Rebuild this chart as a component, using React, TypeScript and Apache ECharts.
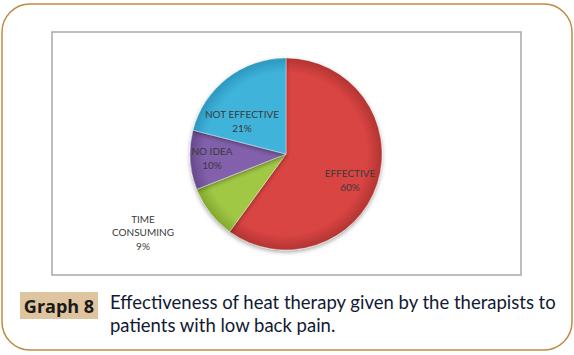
import React, { useEffect, useRef } from 'react';
import * as echarts from 'echarts';

const categories = ['EFFECTIVE', 'TIME CONSUMING', 'NO IDEA', 'NOT EFFECTIVE'];
const labelNames = ['EFFECTIVE', 'TIME\nCONSUMING', 'NO IDEA', 'NOT EFFECTIVE'];
const values = [60, 9, 10, 21];
const colors = ['#d84442', '#a0c845', '#8260ab', '#3fb3da'];
const edgeColors = ['#b23432', '#82a82f', '#67498c', '#2c97bf'];
const captionTag = 'Graph 8';
const captionLines = [
  'Effectiveness of heat therapy given by the therapists to',
  'patients with low back pain.',
];
// label anchor positions (px) for each slice label
const labelPos = [
  [350, 180],
  [143, 232],
  [212, 158],
  [242, 121],
];

const W = 574;
const H = 355;
const CX = 286;
const CY = 154;
const R = 96;

export default function App() {
  const ref = useRef<HTMLDivElement>(null);
  useEffect(() => {
    document.body.style.margin = '0';
    if (!ref.current) return;
    const chart = echarts.init(ref.current, undefined, { renderer: 'svg' });
    const data = categories.map((c, i) => ({
      name: c,
      value: values[i],
      itemStyle: {
        color: {
          type: 'radial',
          x: CX,
          y: CY,
          r: R,
          global: true,
          colorStops: [
            { offset: 0, color: colors[i] },
            { offset: 0.85, color: colors[i] },
            { offset: 1, color: edgeColors[i] },
          ],
        },
      },
      label: { formatter: labelNames[i] + '\n{d}%' },
    }));
    chart.setOption({
      animation: false,
      backgroundColor: '#ffffff',
      graphic: [
        {
          type: 'rect',
          shape: { x: 2, y: 4, width: 570, height: 346, r: 28 },
          style: { fill: 'none', stroke: '#c08a40', lineWidth: 1.5 },
          z: 0,
        },
        {
          type: 'rect',
          shape: { x: 52, y: 32, width: 469, height: 243 },
          style: { fill: '#ffffff', stroke: '#a8a8a8', lineWidth: 1.5 },
          z: 0,
        },
        {
          type: 'rect',
          shape: { x: 20, y: 292, width: 78, height: 27 },
          style: { fill: '#dfc4a0' },
        },
        {
          type: 'text',
          x: 59,
          y: 306,
          style: {
            text: captionTag,
            font: 'bold 18px "Open Sans", sans-serif',
            fill: '#1a1a1a',
            align: 'center',
            verticalAlign: 'middle',
          },
        },
        ...captionLines.map((t, i) => ({
          type: 'text',
          x: 110,
          y: 302 + i * 23,
          style: {
            text: t,
            font: '18.5px Lato, sans-serif',
            fill: '#111a33',
            align: 'left',
            verticalAlign: 'middle',
          },
        })),
      ],
      series: [
        {
          type: 'pie',
          center: [CX, CY],
          radius: R,
          startAngle: 90,
          clockwise: true,
          z: 2,
          data,
          itemStyle: {
            borderColor: 'rgba(255,255,255,0.35)',
            borderWidth: 1,
            shadowBlur: 4,
            shadowColor: 'rgba(0,0,0,0.35)',
            shadowOffsetY: 2,
          },
          label: {
            show: true,
            position: 'inside',
            color: '#3a3a3a',
            fontFamily: 'Lato, sans-serif',
            fontSize: 10,
            lineHeight: 13.5,
            align: 'center',
          },
          labelLine: { show: false },
          labelLayout: (p: any) => ({
            x: labelPos[p.dataIndex][0],
            y: labelPos[p.dataIndex][1],
            align: 'center',
            verticalAlign: 'middle',
          }),
          emphasis: { disabled: true },
        },
      ],
    });
    return () => chart.dispose();
  }, []);
  return <div ref={ref} style={{ width: W, height: H }} />;
}
